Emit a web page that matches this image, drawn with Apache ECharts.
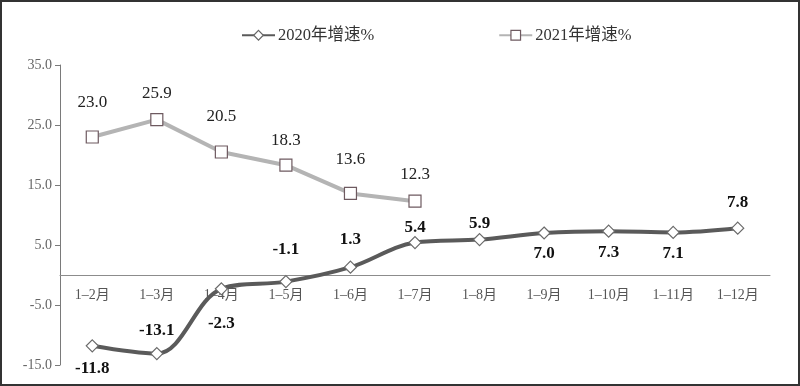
<!DOCTYPE html>
<html><head><meta charset="utf-8">
<script src="https://cdn.jsdelivr.net/npm/echarts@6/dist/echarts.min.js"></script>
<style>html,body{margin:0;padding:0;background:#fff}#c{width:800px;height:386px}</style>
</head><body><div id="c"></div>
<script>
var categories = ['1–2月','1–3月','1–4月','1–5月','1–6月','1–7月','1–8月','1–9月','1–10月','1–11月','1–12月'];
var growth2020 = [-11.8, -13.1, -2.3, -1.1, 1.3, 5.4, 5.9, 7.0, 7.3, 7.1, 7.8];
var growth2021 = [23.0, 25.9, 20.5, 18.3, 13.6, 12.3];
var yTicks = [-15, -5, 5, 15, 25, 35];
var name2020 = '2020年增速%';
var name2021 = '2021年增速%';

var serif = "'Liberation Serif','Noto Sans CJK SC',serif";
var below2020 = [true, false, true, false, false, false, false, true, true, true, false];
var dist2020 = [8, 8, 20, 17, 12, 0, 1, 6, 6, 6, 10];
var dist2021 = [19, 11, 20, 10, 19, 12];

var chart = echarts.init(document.getElementById('c'));
chart.setOption({
  animation: false,
  backgroundColor: '#fff',
  graphic: [{type:'rect', shape:{x:1, y:1, width:798, height:384}, style:{fill:'none', stroke:'#333', lineWidth:2}, silent:true}],
  legend: {
    top: 22, left: 236, itemGap: 124, itemWidth: 33, itemHeight: 12,
    textStyle: {fontFamily: serif, fontSize: 16.5, color: '#333', padding: [0,0,0,-2]},
    data: [
      {name: name2020, itemStyle: {color: '#fff', borderColor: '#666', borderWidth: 1.2}},
      {name: name2021, itemStyle: {color: '#fff', borderColor: '#6e5a60', borderWidth: 1.2}}
    ]
  },
  grid: {left: 60, right: 30, top: 65, bottom: 21, outerBoundsMode: 'none', containLabel: false},
  xAxis: {
    type: 'category', data: categories, boundaryGap: true,
    position: 'bottom', offset: -90,
    axisLine: {onZero: false, lineStyle: {color: '#8c8c8c', width: 1}},
    axisTick: {show: false},
    axisLabel: {fontFamily: serif, fontSize: 14, color: '#555', margin: 13}
  },
  yAxis: {
    type: 'value', min: -15, max: 35, interval: 5,
    axisLine: {show: true, lineStyle: {color: '#7a7a7a'}},
    axisTick: {show: true, length: 5, customValues: yTicks, lineStyle: {color: '#7a7a7a'}},
    axisLabel: {customValues: yTicks, fontFamily: serif, fontSize: 14, color: '#666', margin: 8,
      formatter: function(v){ return v.toFixed(1); }},
    splitLine: {show: false}
  },
  series: [
    {
      name: name2020, type: 'line', data: growth2020.map(function(v, i){
        return {value: v, label: {position: below2020[i] ? 'bottom' : 'top', distance: dist2020[i]}};
      }),
      smooth: 0.35, symbol: 'diamond', symbolSize: 12,
      lineStyle: {color: '#5a5a5a', width: 4},
      itemStyle: {color: '#fff', borderColor: '#6a6a6a', borderWidth: 1.2},
      label: {show: true, fontFamily: serif, fontWeight: 'bold', fontSize: 17, color: '#111',
        formatter: function(p){ return p.value.toFixed(1); }},
      z: 3
    },
    {
      name: name2021, type: 'line', data: growth2021.map(function(v, i){
        return {value: v, label: {distance: dist2021[i]}};
      }),
      symbol: 'rect', symbolSize: 12,
      lineStyle: {color: '#b4b4b4', width: 4},
      itemStyle: {color: '#fff', borderColor: '#6e5a60', borderWidth: 1.2},
      label: {show: true, position: 'top', fontFamily: serif, fontSize: 17, color: '#222',
        formatter: function(p){ return p.value.toFixed(1); }},
      z: 2
    }
  ]
});
</script></body></html>
